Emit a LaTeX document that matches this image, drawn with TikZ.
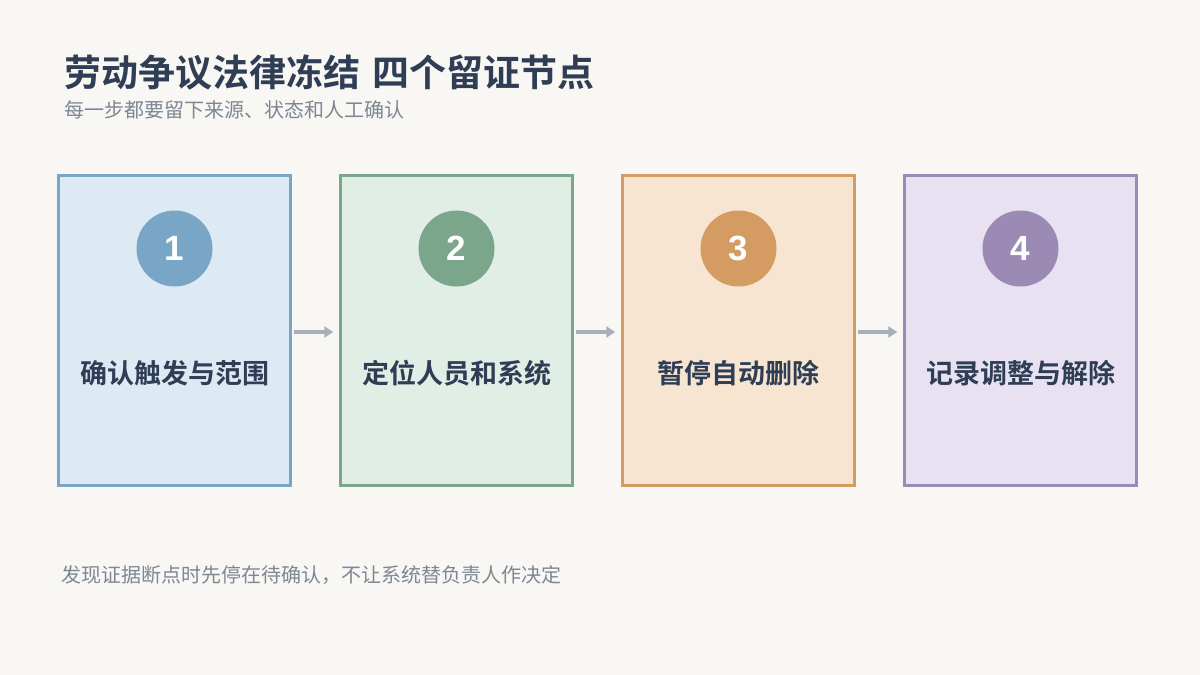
\documentclass[tikz,border=0pt]{standalone}
\usepackage{fontspec}
\setmainfont{Noto Sans CJK SC}
\newfontfamily\cjkb{Noto Sans CJK SC Bold}
\newfontfamily\numf{Liberation Sans}
\usetikzlibrary{arrows.meta}
\definecolor{bgc}{HTML}{F8F7F4}
\definecolor{ink}{HTML}{2F3E55}
\definecolor{subc}{HTML}{7D8794}
\definecolor{arrc}{HTML}{A7B0BA}
\definecolor{fA}{HTML}{DDE9F3}\definecolor{sA}{HTML}{79A6C6}
\definecolor{fB}{HTML}{E0EEE6}\definecolor{sB}{HTML}{7BA68C}
\definecolor{fC}{HTML}{F7E5D2}\definecolor{sC}{HTML}{D49B63}
\definecolor{fD}{HTML}{E8E1F2}\definecolor{sD}{HTML}{9B8AB4}
\tikzset{
  stepbox/.style={draw, line width=2.5pt, minimum width=232pt, minimum height=310pt, inner sep=0pt},
  numdot/.style={circle, minimum size=76pt, inner sep=0pt, text=white, font=\numf\fontsize{35}{35}\selectfont\bfseries},
  steplabel/.style={text=ink, font=\cjkb\fontsize{27}{30}\selectfont},
  flow/.style={draw=arrc, line width=4pt, -{Triangle[length=9pt,width=11pt]}},
}
\begin{document}
\begin{tikzpicture}[x=1pt,y=-1pt]
\fill[bgc] (0,0) rectangle (1200,675);
\useasboundingbox (0,0) rectangle (1200,675);
\node[anchor=west, text=ink, font=\cjkb\fontsize{37}{40}\selectfont, inner sep=0pt] (title) at (64,73) {劳动争议法律冻结\hspace{4pt} 四个留证节点};
\node[anchor=west, text=subc, font=\fontsize{20}{24}\selectfont, inner sep=0pt] (sub) at (64,110) {每一步都要留下来源、状态和人工确认};
\node[anchor=west, text=subc, font=\fontsize{20}{24}\selectfont, inner sep=0pt] (foot) at (61,575) {发现证据断点时先停在待确认，不让系统替负责人作决定};

\node[stepbox, draw=sA, fill=fA] (b1) at (174.5,330.5) {};
\node[stepbox, draw=sB, fill=fB] (b2) at (456.5,330.5) {};
\node[stepbox, draw=sC, fill=fC] (b3) at (738.5,330.5) {};
\node[stepbox, draw=sD, fill=fD] (b4) at (1020.5,330.5) {};

\node[numdot, fill=sA] (n1) at (174.5,248.5) {1};
\node[numdot, fill=sB] (n2) at (456.5,248.5) {2};
\node[numdot, fill=sC] (n3) at (738.5,248.5) {3};
\node[numdot, fill=sD] (n4) at (1020.5,248.5) {4};

\node[steplabel] (l1) at (174.5,373) {确认触发与范围};
\node[steplabel] (l2) at (456.5,373) {定位人员和系统};
\node[steplabel] (l3) at (738.5,373) {暂停自动删除};
\node[steplabel] (l4) at (1020.5,373) {记录调整与解除};

\draw[flow] ([xshift=2pt,yshift=-1.5pt]b1.east) -- ([xshift=-6pt,yshift=-1.5pt]b2.west);
\draw[flow] ([xshift=2pt,yshift=-1.5pt]b2.east) -- ([xshift=-6pt,yshift=-1.5pt]b3.west);
\draw[flow] ([xshift=2pt,yshift=-1.5pt]b3.east) -- ([xshift=-6pt,yshift=-1.5pt]b4.west);
\end{tikzpicture}
\end{document}
